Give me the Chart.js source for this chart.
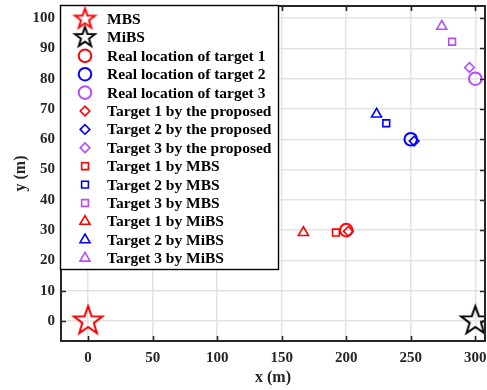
<!DOCTYPE html>
<html>
<head>
<meta charset="utf-8">
<script src="https://cdn.jsdelivr.net/npm/chart.js@4.4.1/dist/chart.umd.min.js"></script>
<style>
  html, body { margin: 0; padding: 0; background: #ffffff; }
  #wrap { width: 487px; height: 390px; }
</style>
</head>
<body>
<div id="wrap"><canvas id="c" width="487" height="390"></canvas></div>
<script>
// Axis ticks
const xTicks = [0, 50, 100, 150, 200, 250, 300];
const yTicks = [0, 10, 20, 30, 40, 50, 60, 70, 80, 90, 100];

// Base stations [x, y]
const mbsPos  = [0, 0];
const mibsPos = [300, 0];

// Real target locations [x, y]
const realT1 = [200, 30];
const realT2 = [250, 60];
const realT3 = [300, 80];

// Estimates by the proposed method
const propT1 = [201.6, 29.6];
const propT2 = [252.6, 59.4];
const propT3 = [295.5, 83.7];

// Estimates by MBS
const mbsT1 = [192, 29.2];
const mbsT2 = [231, 65.3];
const mbsT3 = [282, 92.2];

// Estimates by MiBS
const mibsT1 = [166.8, 29.2];
const mibsT2 = [223.5, 68.3];
const mibsT3 = [274, 97.3];

const RED = '#ff0000', BLUE = '#0000ff', PURPLE = '#b44cff', BLACK = '#000000';
const FONT = '"Liberation Serif", "Times New Roman", serif';

function pentagram(r, color, lw) {
  const s = Math.ceil(2 * r + 2 * lw + 4);
  const c = document.createElement('canvas');
  c.width = c.height = s;
  const g = c.getContext('2d');
  g.strokeStyle = color;
  g.lineWidth = lw;
  g.lineJoin = 'miter';
  g.beginPath();
  for (let i = 0; i < 10; i++) {
    const rr = i % 2 ? r * 0.4 : r;
    const a = -Math.PI / 2 + i * Math.PI / 5;
    g.lineTo(s / 2 + rr * Math.cos(a), s / 2 + rr * Math.sin(a));
  }
  g.closePath();
  g.stroke();
  return c;
}

const pt = p => [{ x: p[0], y: p[1] }];

function series(label, p, style, color, radius, lw, legendStyle) {
  return {
    label: label,
    data: pt(p),
    pointStyle: style,
    legendStyle: legendStyle || style,
    borderColor: color,
    backgroundColor: 'rgba(0,0,0,0)',
    pointRadius: radius,
    pointHoverRadius: radius,
    pointBorderWidth: lw,
    showLine: false
  };
}

const datasets = [
  series('MBS', mbsPos, pentagram(15, RED, 2), RED, 15, 2, pentagram(10.5, RED, 2)),
  series('MiBS', mibsPos, pentagram(15, BLACK, 2), BLACK, 15, 2, pentagram(10.5, BLACK, 2)),
  series('Real location of target 1', realT1, 'circle', RED, 6.3, 2),
  series('Real location of target 2', realT2, 'circle', BLUE, 6.3, 2),
  series('Real location of target 3', realT3, 'circle', PURPLE, 6.3, 2),
  series('Target 1 by the proposed', propT1, 'rectRot', RED, 4.8, 1.6),
  series('Target 2 by the proposed', propT2, 'rectRot', BLUE, 4.8, 1.6),
  series('Target 3 by the proposed', propT3, 'rectRot', PURPLE, 4.8, 1.6),
  series('Target 1 by MBS', mbsT1, 'rect', RED, 4.8, 1.6),
  series('Target 2 by MBS', mbsT2, 'rect', BLUE, 4.8, 1.6),
  series('Target 3 by MBS', mbsT3, 'rect', PURPLE, 4.8, 1.6),
  series('Target 1 by MiBS', mibsT1, 'triangle', RED, 5.8, 1.6),
  series('Target 2 by MiBS', mibsT2, 'triangle', BLUE, 5.8, 1.6),
  series('Target 3 by MiBS', mibsT3, 'triangle', PURPLE, 5.8, 1.6)
];

// Box frame with inward ticks, plus the boxed legend in the upper-left corner
const framePlugin = {
  id: 'frame',
  afterDraw(chart) {
    const ctx = chart.ctx;
    const a = chart.chartArea;
    const xs = chart.scales.x, ys = chart.scales.y;
    ctx.save();
    ctx.strokeStyle = '#262626';
    ctx.lineWidth = 1.6;
    ctx.beginPath();
    const tl = 5;
    xTicks.forEach(v => {
      const px = Math.round(xs.getPixelForValue(v)) + 0.5;
      ctx.moveTo(px, a.bottom); ctx.lineTo(px, a.bottom - tl);
      ctx.moveTo(px, a.top); ctx.lineTo(px, a.top + tl);
    });
    yTicks.forEach(v => {
      const py = Math.round(ys.getPixelForValue(v)) + 0.5;
      ctx.moveTo(a.left, py); ctx.lineTo(a.left + tl, py);
      ctx.moveTo(a.right, py); ctx.lineTo(a.right - tl, py);
    });
    ctx.stroke();
    ctx.lineWidth = 2;
    ctx.strokeRect(a.left, a.top, a.right - a.left, a.bottom - a.top);

    // legend
    const L = 60, T = 5, W = 218, H = 264;
    ctx.fillStyle = '#ffffff';
    ctx.fillRect(L, T, W, H);
    ctx.strokeStyle = '#000000';
    ctx.lineWidth = 1.4;
    ctx.strokeRect(L + 0.5, T + 0.5, W, H);
    ctx.font = 'bold 15.5px ' + FONT;
    ctx.textBaseline = 'middle';
    ctx.textAlign = 'left';
    chart.data.datasets.forEach((d, i) => {
      const y = 19 + i * 18.4;
      ctx.strokeStyle = d.borderColor;
      ctx.fillStyle = 'rgba(0,0,0,0)';
      ctx.lineWidth = d.pointBorderWidth;
      Chart.helpers.drawPoint(ctx, {
        pointStyle: d.legendStyle,
        radius: d.pointRadius > 10 ? 10.5 : d.pointRadius,
        borderWidth: d.pointBorderWidth,
        rotation: 0
      }, 85, y);
      ctx.fillStyle = '#000000';
      ctx.fillText(d.label, 107, y + 1);
    });
    ctx.restore();
  }
};

new Chart(document.getElementById('c'), {
  type: 'scatter',
  data: { datasets: datasets },
  plugins: [framePlugin],
  options: {
    responsive: false,
    devicePixelRatio: 1,
    animation: false,
    layout: { autoPadding: false, padding: { top: 6, right: 2, left: 0, bottom: 0 } },
    plugins: { legend: { display: false }, tooltip: { enabled: false } },
    scales: {
      x: {
        type: 'linear',
        min: -21,
        max: 307.5,
        afterBuildTicks: s => { s.ticks = xTicks.map(v => ({ value: v })); },
        afterFit: s => { s.height = 49; s.paddingLeft = 0; s.paddingRight = 0; },
        grid: { color: '#e3e3e3', lineWidth: 1.5, drawTicks: false },
        border: { display: false },
        ticks: { padding: 8, color: '#262626', font: { family: FONT, size: 15, weight: 'bold' }, maxRotation: 0 },
        title: { display: true, text: 'x (m)', color: '#262626', padding: { top: 3, bottom: 3 }, font: { family: FONT, size: 16, weight: 'bold' } }
      },
      y: {
        type: 'linear',
        min: -6.6,
        max: 104,
        afterBuildTicks: s => { s.ticks = yTicks.map(v => ({ value: v })); },
        afterFit: s => { s.width = 61; s.paddingTop = 0; s.paddingBottom = 0; },
        grid: { color: '#e3e3e3', lineWidth: 1.5, drawTicks: false },
        border: { display: false },
        ticks: { padding: 6, color: '#262626', font: { family: FONT, size: 15, weight: 'bold' } },
        title: { display: true, text: 'y (m)', color: '#262626', padding: { top: 11, bottom: 11 }, font: { family: FONT, size: 16, weight: 'bold' } }
      }
    }
  }
});
</script>
</body>
</html>
